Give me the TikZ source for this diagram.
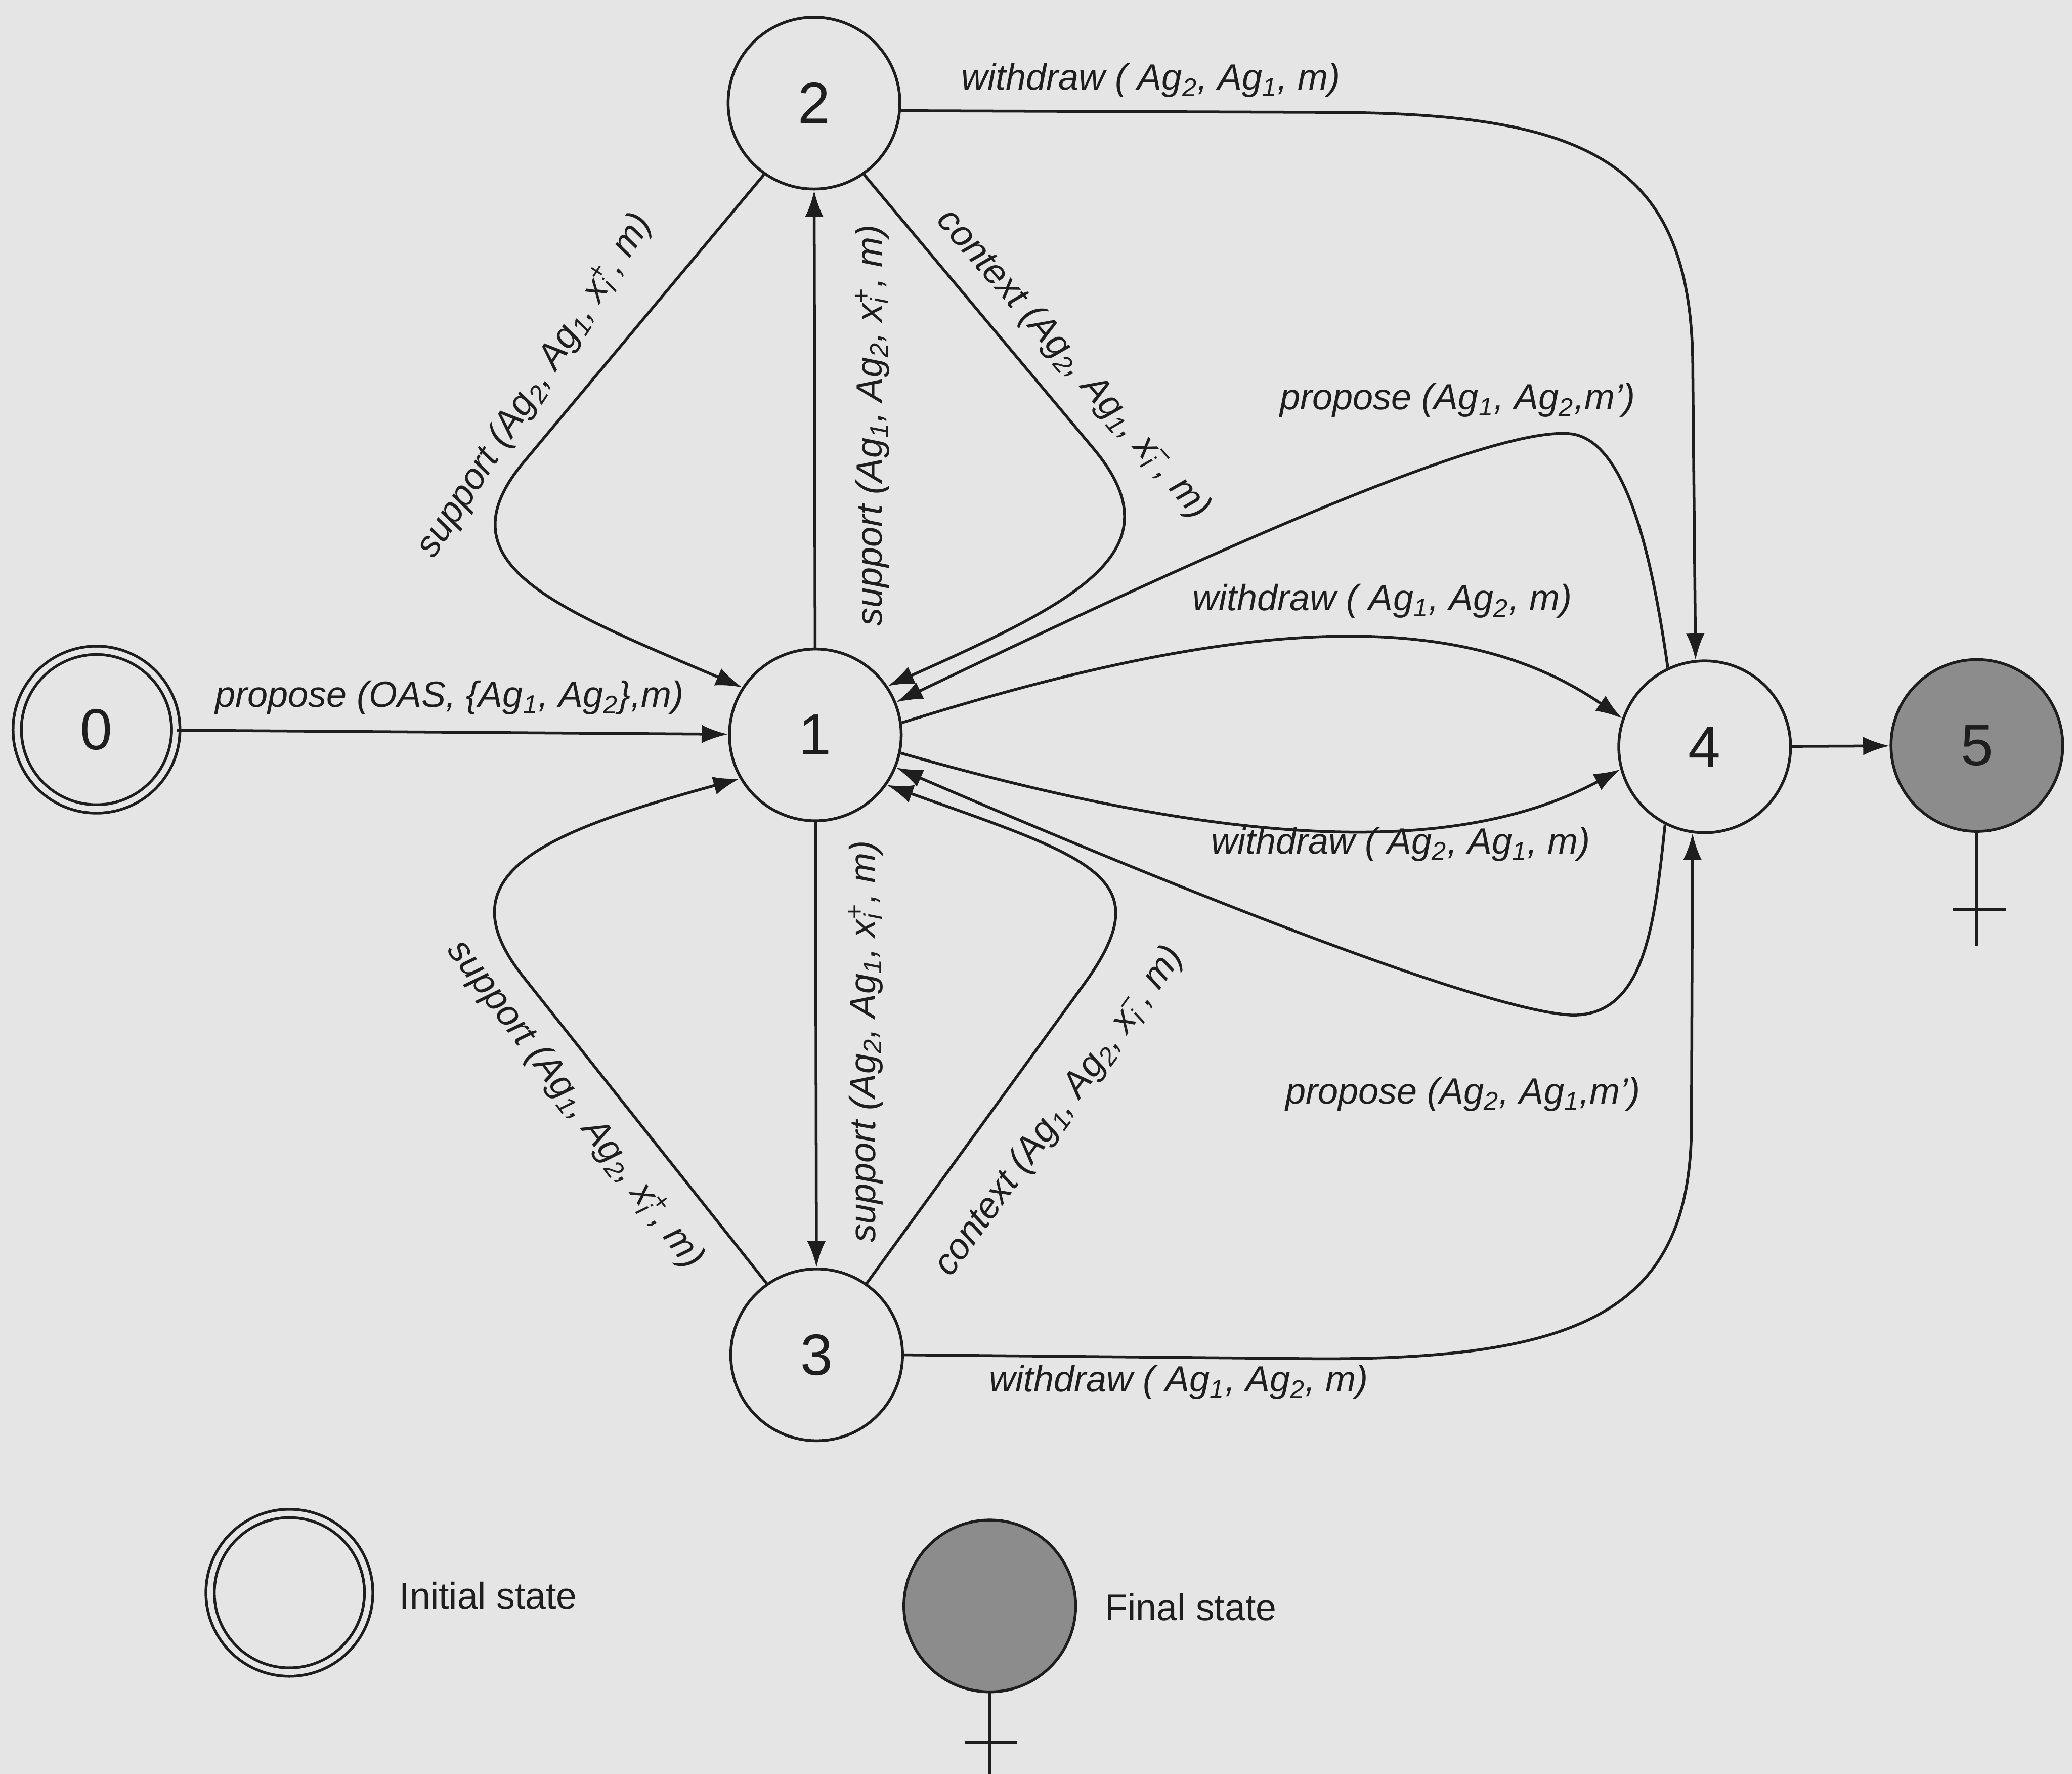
\documentclass[tikz,border=0pt]{standalone}
\usepackage{fontspec}
\setmainfont{Liberation Sans}
\usetikzlibrary{arrows.meta}
\definecolor{paper}{HTML}{E5E5E5}
\definecolor{ink}{HTML}{1E1E1E}
\definecolor{finalgray}{HTML}{8C8C8C}
\newcommand{\ag}[1]{Ag\textsubscript{#1}}
\newcommand{\xplus}{x\rlap{\textsubscript{i}}\textsuperscript{+}}
\newcommand{\xminus}{x\rlap{\textsubscript{i}}\textsuperscript{−}}
\tikzset{
  state/.style={circle, draw=ink, line width=1.2pt, minimum size=2.6cm,
    inner sep=0pt, text=ink, font=\fontsize{25}{30}\selectfont},
  initial/.style={state, minimum size=2.4cm, double=paper, double distance=2.4pt},
  final/.style={state, fill=finalgray},
  lbl/.style={font=\fontsize{15.7}{18}\selectfont\itshape, text=ink, inner sep=0pt},
  legend/.style={font=\fontsize{16}{19}\selectfont, text=ink, inner sep=0pt, anchor=west},
  arc/.style={draw=ink, line width=1.2pt, -{Latex[length=4mm,width=2.8mm]}},
}
\begin{document}
\begin{tikzpicture}[x=0.02cm, y=-0.02cm]
  \fill[paper] (0,0) rectangle (1568,1342);
  \useasboundingbox (0,0) rectangle (1568,1342);

  \node[initial] (s0) at (73,552) {0};
  \node[state] (s1) at (617,556) {1};
  \node[state] (s2) at (616,78) {2};
  \node[state] (s3) at (618,1025) {3};
  \node[state] (s4) at (1290,565) {4};
  \node[final] (s5) at (1496,564) {5};
  \draw[ink, line width=1.2pt] (s5.south) -- (1496,716);
  \draw[ink, line width=1.2pt] (1478,688) -- (1518,688);

  \begin{scope}[arc]
    \draw (s0) -- (s1);
    \draw (s1) -- (s2);
    \draw (s1) -- (s3);
    \draw (s4) -- (s5);
    \draw (s2.235) -- (396,350) .. controls (332,427) and (421,460) .. (s1.147);
    \draw (s2.-55) -- (828,340) .. controls (892,417) and (815,455) .. (s1.34);
    \draw (s3.125) -- (396,739) .. controls (334,661) and (411,630) .. (s1.210);
    \draw (s3.55) -- (820,745) .. controls (879,664) and (829,650) .. (s1.-35);
    \draw (s1.8) .. controls (927,470) and (1100,455) .. (s4.161);
    \draw (s1.-12) .. controls (927,640) and (1100,650) .. (s4.195);
    \draw (s4.115) .. controls (1250,420) and (1230,328) .. (1185,328)
      .. controls (1120,325) and (900,425) .. (s1.22);
    \draw (s4.243) .. controls (1252,700) and (1245,768) .. (1190,768)
      .. controls (1120,765) and (869,663) .. (s1.-22);
    \draw (s2.-5) -- (1000,85) .. controls (1200,85) and (1281,120) .. (1281,280) -- (s4.96);
    \draw (s3.east) -- (1000,1028) .. controls (1200,1028) and (1280,990) .. (1280,850) -- (s4.262);
  \end{scope}

  \node[lbl, anchor=base] (l01) at (340,535) {propose (OAS, \{\ag{1}, \ag{2}\},m)};
  \node[lbl, anchor=base] (l24) at (871,68) {withdraw ( \ag{2}, \ag{1}, m)};
  \node[lbl, anchor=base] (l41a) at (1103,310) {propose (\ag{1}, \ag{2},m')};
  \node[lbl, anchor=base] (l14a) at (1046,462) {withdraw ( \ag{1}, \ag{2}, m)};
  \node[lbl, anchor=base] (l14b) at (1060,646) {withdraw ( \ag{2}, \ag{1}, m)};
  \node[lbl, anchor=base] (l41b) at (1107,835) {propose (\ag{2}, \ag{1},m')};
  \node[lbl, anchor=base] (l34) at (892,1053) {withdraw ( \ag{1}, \ag{2}, m)};
  \node[lbl, rotate=57] (l21s) at (405,292) {support (\ag{2}, \ag{1}, \xplus, m)};
  \node[lbl, rotate=90] (l12) at (660,322) {support (\ag{1}, \ag{2}, \xplus, m)};
  \node[lbl, rotate=-49] (l21c) at (812,276) {context (\ag{2}, \ag{1}, \xminus, m)};
  \node[lbl, rotate=-53] (l31s) at (435,836) {support (\ag{1}, \ag{2}, \xplus, m)};
  \node[lbl, rotate=90] (l13) at (655,788) {support (\ag{2}, \ag{1}, \xplus, m)};
  \node[lbl, rotate=54] (l31c) at (802,841) {context (\ag{1}, \ag{2}, \xminus, m)};

  \node[initial] (init) at (219,1205) {};
  \node[legend] (initlbl) at (302,1207) {Initial state};
  \node[final] (final) at (749,1215) {};
  \draw[ink, line width=1.2pt] (final.south) -- (749,1342);
  \draw[ink, line width=1.2pt] (730,1318) -- (770,1318);
  \node[legend] (finallbl) at (836,1216) {Final state};
\end{tikzpicture}
\end{document}
